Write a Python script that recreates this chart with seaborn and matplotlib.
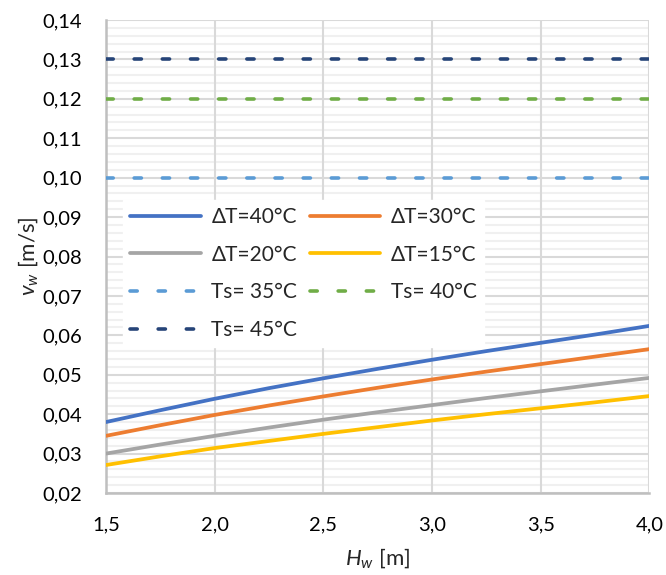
import numpy as np
import pandas as pd
import matplotlib
matplotlib.use("Agg")
import matplotlib.pyplot as plt
from matplotlib.ticker import MultipleLocator, FuncFormatter
import seaborn as sns

# Wall height H_w [m]
h_w = [1.5, 1.75, 2.0, 2.25, 2.5, 2.75, 3.0, 3.25, 3.5, 3.75, 4.0]

# Air velocity v_w [m/s] for different temperature differences
v_dt40 = [0.0380, 0.0410, 0.0439, 0.0466, 0.0491, 0.0515, 0.0538, 0.0560, 0.0581, 0.0602, 0.0624]
v_dt30 = [0.0345, 0.0372, 0.0398, 0.0422, 0.0445, 0.0467, 0.0488, 0.0508, 0.0527, 0.0546, 0.0565]
v_dt20 = [0.0300, 0.0323, 0.0345, 0.0366, 0.0386, 0.0405, 0.0423, 0.0441, 0.0458, 0.0475, 0.0492]
v_dt15 = [0.0271, 0.0293, 0.0314, 0.0332, 0.0350, 0.0367, 0.0384, 0.0400, 0.0415, 0.0430, 0.0446]

# Limit velocities for surface temperatures
ts_labels = ["Ts= 35°C", "Ts= 40°C", "Ts= 45°C"]
ts_values = [0.10, 0.12, 0.13]

dt_labels = ["ΔT=40°C", "ΔT=30°C", "ΔT=20°C", "ΔT=15°C"]
dt_series = [v_dt40, v_dt30, v_dt20, v_dt15]

dt_colors = ["#4472C4", "#ED7D31", "#A5A5A5", "#FFC000"]
ts_colors = ["#5B9BD5", "#70AD47", "#264478"]

sns.set_theme(style="white")
plt.rcParams["font.family"] = ["Lato", "DejaVu Sans"]
plt.rcParams["mathtext.fontset"] = "custom"
plt.rcParams["mathtext.it"] = "Lato:italic"
plt.rcParams["mathtext.rm"] = "Lato"

fig = plt.figure(figsize=(6.66, 5.75), dpi=100)
ax = fig.add_axes([0.159, 0.1426, 0.816, 0.8226])

for label, vals, col in zip(dt_labels, dt_series, dt_colors):
    df = pd.DataFrame({"H": h_w, "v": vals})
    sns.lineplot(data=df, x="H", y="v", ax=ax, color=col, lw=2.7,
                 solid_capstyle="round", label=label, zorder=3)

for label, val, col in zip(ts_labels, ts_values, ts_colors):
    df = pd.DataFrame({"H": [h_w[0], h_w[-1]], "v": [val, val]})
    sns.lineplot(data=df, x="H", y="v", ax=ax, color=col, lw=2.6,
                 dashes=False, label=label, zorder=3)
    line = ax.lines[-1]
    line.set_dashes((2.0, 5.8))
    line.set_dash_capstyle("round")

ax.set_xlim(1.5, 4.0)
ax.set_ylim(0.02, 0.14)
ax.xaxis.set_major_locator(MultipleLocator(0.5))
ax.yaxis.set_major_locator(MultipleLocator(0.01))
ax.yaxis.set_minor_locator(MultipleLocator(0.002))
ax.xaxis.set_major_formatter(FuncFormatter(lambda v, p: f"{v:.1f}".replace(".", ",")))
ax.yaxis.set_major_formatter(FuncFormatter(lambda v, p: f"{v:.2f}".replace(".", ",")))

# Grid: faint minor rows underneath, major rows and columns above them
ax.grid(which="major", axis="both", color="#d9d9d9", lw=1.5)
ax.grid(which="minor", axis="y", color="#f0f0f0", lw=1.5)
ax.set_axisbelow(True)
ax.yaxis.set_zorder(0.4)
ax.xaxis.set_zorder(0.6)

for s in ["top", "right"]:
    ax.spines[s].set_visible(False)
for s in ["left", "bottom"]:
    ax.spines[s].set_color("#bfbfbf")
    ax.spines[s].set_linewidth(1.8)
    ax.spines[s].set_zorder(2)

ax.tick_params(axis="both", which="both", length=0, labelsize=14.5, colors="#000000")
ax.tick_params(axis="y", pad=17)
ax.tick_params(axis="x", pad=17)

ax.set_xlabel(r"$H_w$ [m]", fontsize=16, labelpad=9)
ax.set_ylabel(r"$v_w$ [m/s]", fontsize=16, labelpad=2)

# Row-wise legend order for two columns
h, l = ax.get_legend_handles_labels()
order = [0, 2, 4, 6, 1, 3, 5]
leg = ax.legend([h[i] for i in order], [l[i] for i in order], ncol=2,
                loc="upper left", bbox_to_anchor=(0.031, 0.62),
                borderaxespad=0.0,
                frameon=True, fancybox=False, framealpha=1.0,
                edgecolor="white", facecolor="white", fontsize=15,
                handlelength=3.4, handletextpad=0.5, columnspacing=0.6,
                labelspacing=0.85, borderpad=0.35)
leg.set_zorder(5)

fig.savefig("out.png", dpi=100)
